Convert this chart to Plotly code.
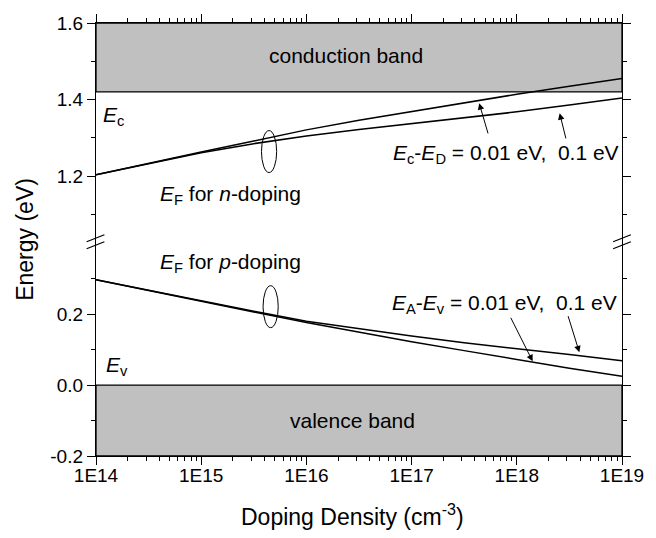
import plotly.graph_objects as go

# ---------------- data ----------------
doping = [1e14, 3.16e14, 1e15, 3.16e15, 1e16, 3.16e16, 1e17, 3.16e17, 1e18, 3.16e18, 1e19]

ef_n_001 = [1.204, 1.234, 1.263, 1.292, 1.321, 1.346, 1.369, 1.392, 1.414, 1.435, 1.455]
ef_n_01 = [1.204, 1.233, 1.261, 1.285, 1.305, 1.322, 1.337, 1.352, 1.368, 1.386, 1.404]
ef_p_001 = [0.297, 0.266, 0.237, 0.206, 0.176, 0.148, 0.122, 0.097, 0.071, 0.047, 0.0245]
ef_p_01 = [0.297, 0.267, 0.238, 0.208, 0.180, 0.158, 0.138, 0.119, 0.103, 0.086, 0.0685]

EC = 1.42
EV = 0.0

x_tickvals = [1e14, 1e15, 1e16, 1e17, 1e18, 1e19]
x_ticktext = ["1E14", "1E15", "1E16", "1E17", "1E18", "1E19"]
x_minor = [m * 10 ** e for e in range(14, 19) for m in range(2, 10)]
y_up_ticks = [1.2, 1.4, 1.6]
y_up_text = ["1.2", "1.4", "1.6"]
y_up_minor = [1.1, 1.3, 1.5]
y_lo_ticks = [-0.2, 0.0, 0.2]
y_lo_text = ["-0.2", "0.0", "0.2"]
y_lo_minor = [-0.1, 0.1, 0.3]

# ---------------- layout geometry ----------------
W, H = 656, 538
L, R, T, B = 96, 26, 23, 81.5
PW, PH = W - L - R, H - T - B
split = 0.49

FONT = "Liberation Sans, Arial, sans-serif"


def px(x):
    return (x - L) / PW


def py(y):
    return (H - B - y) / PH


fig = go.Figure()
line = dict(color="black", width=1.5)
fig.add_trace(go.Scatter(x=doping, y=ef_n_001, mode="lines", line=line, xaxis="x2", yaxis="y2", showlegend=False))
fig.add_trace(go.Scatter(x=doping, y=ef_n_01, mode="lines", line=line, xaxis="x2", yaxis="y2", showlegend=False))
fig.add_trace(go.Scatter(x=doping, y=ef_p_001, mode="lines", line=line, xaxis="x", yaxis="y", showlegend=False))
fig.add_trace(go.Scatter(x=doping, y=ef_p_01, mode="lines", line=line, xaxis="x", yaxis="y", showlegend=False))

tickfont = dict(family=FONT, size=19, color="black")
axcommon = dict(showline=True, linecolor="black", linewidth=1.3, ticks="outside", ticklen=8,
                tickwidth=1.2, tickcolor="black", showgrid=False, zeroline=False, tickfont=tickfont)


def minor(vals):
    return dict(tickmode="array", tickvals=vals, ticks="outside", ticklen=4, tickwidth=1,
                tickcolor="black", showgrid=False)


fig.update_layout(
    width=W, height=H,
    margin=dict(l=L, r=R, t=T, b=B, pad=0),
    paper_bgcolor="white", plot_bgcolor="white",
    xaxis=dict(type="log", range=[14, 19], domain=[0, 1], anchor="y",
               tickmode="array", tickvals=x_tickvals, ticktext=x_ticktext,
               minor=minor(x_minor), ticklabelstandoff=-6, **axcommon),
    xaxis2=dict(type="log", range=[14, 19], domain=[0, 1], anchor="y2", side="top",
                tickmode="array", tickvals=x_tickvals, showticklabels=False,
                minor=minor(x_minor), **axcommon),
    yaxis=dict(domain=[0, split], range=[-0.2, 0.398], anchor="x", mirror="ticks",
               tickmode="array", tickvals=y_lo_ticks, ticktext=y_lo_text,
               minor=minor(y_lo_minor), **axcommon),
    yaxis2=dict(domain=[split, 1], range=[1.6 - (1 - split) * PH / 383.5, 1.6], anchor="x2", mirror="ticks",
                tickmode="array", tickvals=y_up_ticks, ticktext=y_up_text,
                minor=minor(y_up_minor), **axcommon),
)

shapes = []
# bands
shapes.append(dict(type="rect", xref="x2 domain", yref="y2", x0=0, x1=1, y0=EC, y1=1.6,
                   fillcolor="#c0c0c0", line=dict(color="black", width=1.3), layer="below"))
shapes.append(dict(type="rect", xref="x domain", yref="y", x0=0, x1=1, y0=-0.2, y1=EV,
                   fillcolor="#c0c0c0", line=dict(color="black", width=1.3), layer="below"))
# axis break marks
for xc in (95.5, 630):
    for dy in (0, 7):
        shapes.append(dict(type="line", xref="paper", yref="paper",
                           x0=px(xc - 9), y0=py(242 + dy), x1=px(xc + 9), y1=py(235 + dy),
                           line=dict(color="black", width=1.3)))
# ellipses
for cx, cy in ((271.7, 151.7), (273.3, 307.0)):
    shapes.append(dict(type="circle", xref="paper", yref="paper",
                       x0=px(cx - 7.7), x1=px(cx + 7.7), y0=py(cy + 21), y1=py(cy - 21),
                       line=dict(color="black", width=1)))
fig.update_layout(shapes=shapes)

ann = []


def text(x, y, s, xanchor="left", size=21):
    ann.append(dict(x=px(x), y=py(y), xref="paper", yref="paper", text=s, showarrow=False,
                    xanchor=xanchor, yanchor="middle", font=dict(family=FONT, size=size, color="black")))


text(349.5, 56, "conduction band", "center")
text(356.7, 421, "valence band", "center")
text(101, 116, "<i>E</i><sub>c</sub>")
text(104, 366, "<i>E</i><sub>v</sub>")
text(159, 195, "<i>E</i><sub>F</sub> for <i>n</i>-doping")
text(159, 263, "<i>E</i><sub>F</sub> for <i>p</i>-doping")
text(395, 154, "<i>E</i><sub>c</sub>-<i>E</i><sub>D</sub> = 0.01 eV,  0.1 eV")
text(394, 304, "<i>E</i><sub>A</sub>-<i>E</i><sub>v</sub> = 0.01 eV,  0.1 eV")

# axis titles
ann.append(dict(x=px(356), y=py(516), xref="paper", yref="paper", showarrow=False,
                text="Doping Density (cm<sup>-3</sup>)", xanchor="center", yanchor="middle",
                font=dict(family=FONT, size=23, color="black")))
ann.append(dict(x=px(24), y=py(240), xref="paper", yref="paper", showarrow=False,
                text="Energy (eV)", textangle=-90, xanchor="center", yanchor="middle",
                font=dict(family=FONT, size=23, color="black")))


# arrows: head at (hx, hy) pixel, tail at (tx, ty) pixel
def arrow(hx, hy, tx, ty):
    ann.append(dict(x=px(hx), y=py(hy), xref="paper", yref="paper", ax=tx - hx, ay=ty - hy,
                    axref="pixel", ayref="pixel", text="", showarrow=True,
                    arrowhead=2, arrowsize=1.3, arrowwidth=1, arrowcolor="black"))


arrow(485, 103.3, 494.3, 135)
arrow(566.7, 113.3, 573.3, 140)
arrow(539.3, 361.7, 516.7, 316.7)
arrow(586.7, 352.7, 575, 315)

fig.update_layout(annotations=ann)
fig.write_html("out.html")
